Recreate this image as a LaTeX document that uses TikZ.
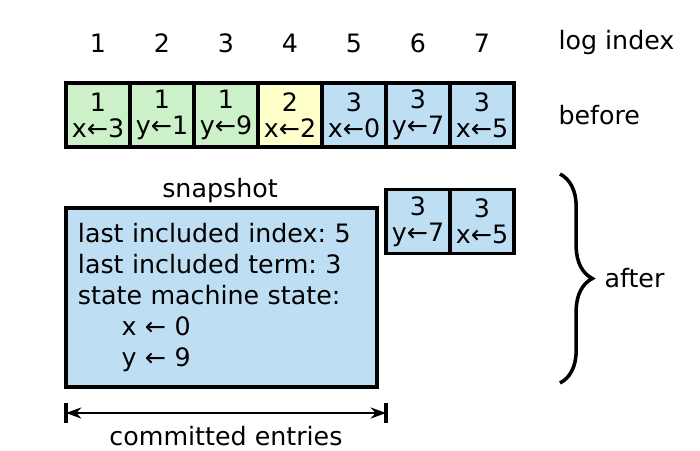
\documentclass[tikz,border=0pt]{standalone}
\usepackage{fontspec}
\setmainfont{DejaVu Sans}
\usetikzlibrary{decorations.pathreplacing,arrows.meta}

\definecolor{oldterm}{RGB}{204,240,200}
\definecolor{midterm}{RGB}{255,255,204}
\definecolor{newterm}{RGB}{190,222,243}

\begin{document}
\frenchspacing
\begin{tikzpicture}[x=0.025cm,y=-0.025cm,line width=2.2pt,
  font=\fontsize{18}{18.5}\selectfont,
  entry/.style={draw,align=center,minimum width=1.6cm,minimum height=1.6cm,inner sep=0pt},
  lbl/.style={inner sep=0pt,anchor=west}]
\useasboundingbox (0,0) rectangle (700,450);
% index numbers
\node (l1) at (98,43) {1};
\node (l2) at (162,43) {2};
\node (l3) at (226,43) {3};
\node (l4) at (290,43) {4};
\node (l5) at (354,43) {5};
\node (l6) at (418,43) {6};
\node (l7) at (482,43) {7};
\node[lbl] (lidx) at (557,43) {log index};
% log before
\node[entry,fill=oldterm] (e1) at (98,115) {1\\x←3};
\node[entry,fill=oldterm] (e2) at (162,115) {1\\y←1};
\node[entry,fill=oldterm] (e3) at (226,115) {1\\y←9};
\node[entry,fill=midterm] (e4) at (290,115) {2\\x←2};
\node[entry,fill=newterm] (e5) at (354,115) {3\\x←0};
\node[entry,fill=newterm] (e6) at (418,115) {3\\y←7};
\node[entry,fill=newterm] (e7) at (482,115) {3\\x←5};
\node[lbl] (before) at (557,115) {before};
% log after
\node[entry,fill=newterm] (a6) at (418,221.5) {3\\y←7};
\node[entry,fill=newterm] (a7) at (482,221.5) {3\\x←5};
\node (snaplbl) at (220,191) {snapshot};
\node[draw,fill=newterm,minimum width=7.775cm,minimum height=4.475cm,
  text width=7.175cm,align=left,inner xsep=0.3cm,
  font=\fontsize{18}{22}\selectfont] (snap) at (221.5,297.5)
  {last included index: 5\\last included term: 3\\state machine state:\\
   \hspace*{31pt}x ← 0\\\hspace*{31pt}y ← 9};
\coordinate (btop) at (560,174);
\coordinate (bbot) at (560,383);
\draw[decorate,decoration={brace,amplitude=23pt},line width=2.5pt] (btop) -- (bbot);
\node[lbl] (after) at (603,278) {after};
% committed entries
\coordinate (c0) at (66,413);
\coordinate (c1) at (386,413);
\draw[line width=2.5pt] (c0) ++(0,-10) -- ++(0,20);
\draw[line width=2.5pt] (c1) ++(0,-10) -- ++(0,20);
\draw[line width=1pt,{Stealth[length=11pt,width=8pt]}-{Stealth[length=11pt,width=8pt]}] (c0) -- (c1);
\node (comm) at (226,436) {committed entries};
\end{tikzpicture}
\end{document}
